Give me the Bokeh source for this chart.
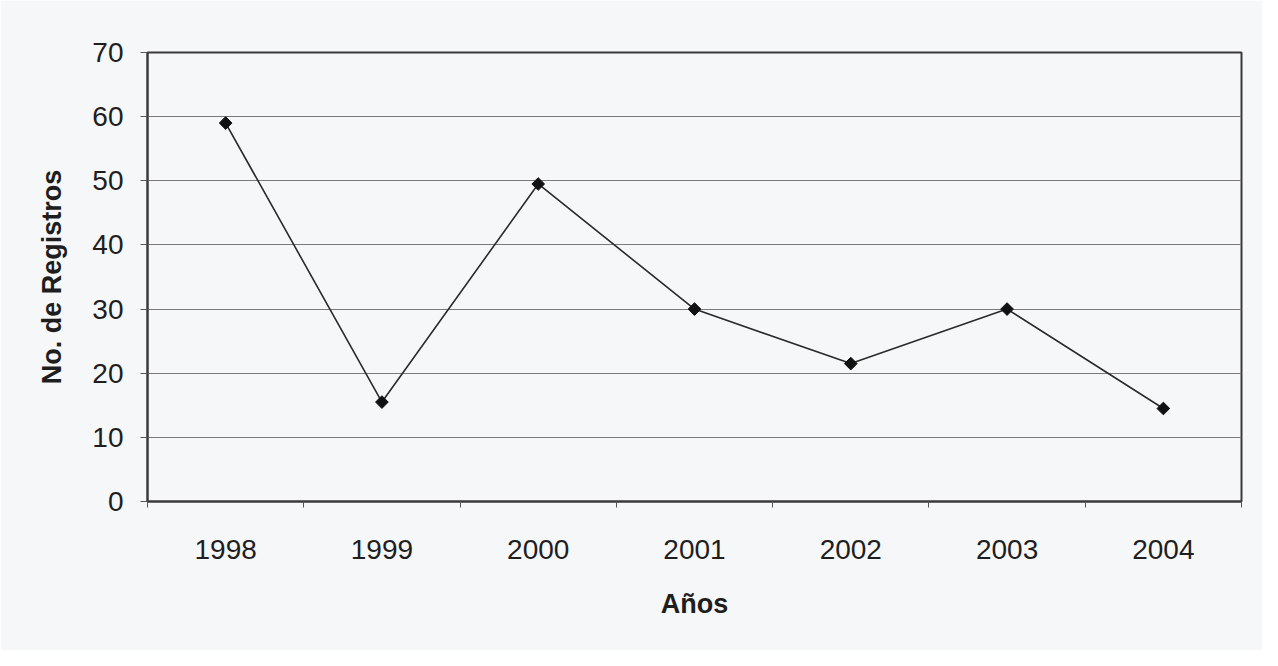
import math
from bokeh.plotting import figure
from bokeh.models import FixedTicker, SingleIntervalTicker, Range1d, ColumnDataSource
from bokeh.embed import file_html
from bokeh.resources import INLINE

years = ["1998", "1999", "2000", "2001", "2002", "2003", "2004"]
registros = [59, 15.5, 49.5, 30, 21.5, 30, 14.5]

FONT = "Liberation Sans"
TXT = "#1e1e1e"

pos = [i + 0.5 for i in range(len(years))]
src = ColumnDataSource(dict(x=pos, y=registros, year=years))

p = figure(width=1262, height=650, output_backend="svg", toolbar_location=None,
           x_range=Range1d(0, len(years)), y_range=Range1d(0, 70),
           min_border_left=147, min_border_right=21, min_border_top=52, min_border_bottom=149)

p.background_fill_color = "#f6f7f9"
p.border_fill_color = "#f6f7f9"
p.outline_line_color = "#3a3a3a"
p.outline_line_width = 2

p.line("x", "y", source=src, line_color="#2a2a2a", line_width=1.6)
p.scatter("x", "y", source=src, marker="square", size=9, angle=math.pi / 4,
          fill_color="#111111", line_color="#111111")

# x axis
xa = p.xaxis[0]
xa.ticker = FixedTicker(ticks=pos, minor_ticks=list(range(len(years) + 1)))
xa.major_label_overrides = {pv: y for pv, y in zip(pos, years)}
xa.major_tick_line_color = None
xa.major_tick_out = 6
xa.major_tick_in = 0
xa.minor_tick_out = 6
xa.minor_tick_in = 0
xa.minor_tick_line_color = "#555555"
xa.axis_line_color = "#3a3a3a"
xa.axis_line_width = 2
xa.major_label_text_font = FONT
xa.major_label_text_font_size = "28px"
xa.major_label_text_color = TXT
xa.major_label_standoff = 32
xa.axis_label = "Años"
xa.axis_label_text_font = FONT
xa.axis_label_text_font_size = "27px"
xa.axis_label_text_font_style = "bold"
xa.axis_label_text_color = TXT
xa.axis_label_standoff = 27

# y axis
ya = p.yaxis[0]
ya.ticker = SingleIntervalTicker(interval=10, num_minor_ticks=0)
ya.major_tick_out = 7
ya.major_tick_in = 0
ya.major_tick_line_color = "#555555"
ya.minor_tick_line_color = None
ya.axis_line_color = "#3a3a3a"
ya.axis_line_width = 2
ya.major_label_text_font = FONT
ya.major_label_text_font_size = "28px"
ya.major_label_text_color = TXT
ya.major_label_standoff = 17
ya.axis_label = "No. de Registros"
ya.axis_label_text_font = FONT
ya.axis_label_text_font_size = "27px"
ya.axis_label_text_font_style = "bold"
ya.axis_label_text_color = TXT
ya.axis_label_standoff = 22

p.xgrid.grid_line_color = None
p.ygrid.grid_line_color = "#7a7a7a"
p.ygrid.grid_line_width = 1

open("out.html", "w").write(file_html(p, INLINE))
